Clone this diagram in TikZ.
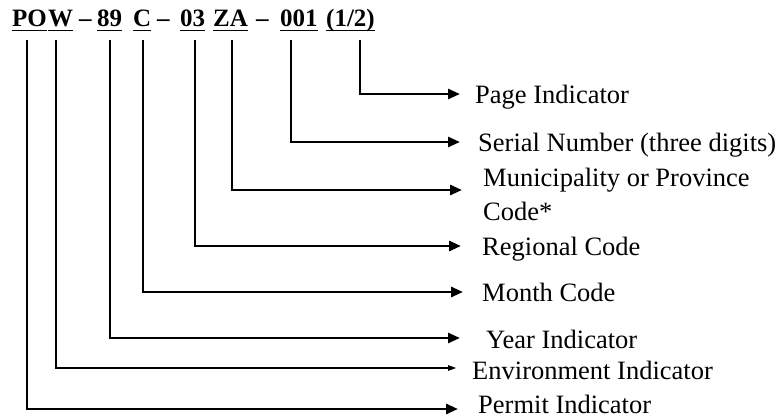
\documentclass[tikz,border=0pt]{standalone}
\usepackage{fontspec}
\setmainfont{Liberation Serif}
\usetikzlibrary{arrows.meta}
\begin{document}
\begin{tikzpicture}[x=1pt,y=-1pt,
  tok/.style={anchor=base west, inner sep=0pt, font=\fontsize{25}{28}\selectfont\bfseries},
  lab/.style={anchor=west, inner sep=0pt, text height=17.5pt, text depth=0pt, font=\fontsize{26.5}{32}\selectfont},
  labtwo/.style={anchor=base west, inner sep=0pt, align=left, font=\fontsize{26.5}{34}\selectfont},
  conn/.style={line width=2.8pt, -{Triangle[length=12pt,width=10pt]}},
  connslim/.style={line width=2.8pt, -{Triangle[length=9pt,width=5pt]}},
  uline/.style={line width=1.6pt}]
\useasboundingbox (0,0) rectangle (778,419);

% code tokens
\node[tok] (tPO)   at (12,27)  {PO};
\node[tok] (tW)    at (48,27)  {W};
\node[tok] (d1)    at (79,27)  {–};
\node[tok] (t89)   at (97,27)  {89};
\node[tok] (tC)    at (133,27) {C};
\node[tok] (d2)    at (157,27) {–};
\node[tok] (t03)   at (180,27) {03};
\node[tok] (tZA)   at (213,27) {ZA};
\node[tok] (d3)    at (256,27) {–};
\node[tok] (t001)  at (280,27) {001};
\node[tok] (tHalf) at (326,27) {(1/2)};

\foreach \t in {tPO,tW,t89,tC,t03,tZA,t001,tHalf}
  \draw[uline] ([yshift=-3.5pt]\t.base west) -- ([yshift=-3.5pt]\t.base east);

% labels
\node[lab] (lPage)   at (475,95)  {Page Indicator};
\node[lab] (lSerial) at (478,143) {Serial Number (three digits)};
\node[labtwo] (lMuni) at (483,221) {Municipality or Province\\Code*};
\node[lab] (lReg)    at (482,247) {Regional Code};
\node[lab] (lMonth)  at (482,293) {Month Code};
\node[lab] (lYear)   at (486,340) {Year Indicator};
\node[lab] (lEnv)    at (472,371) {Environment Indicator};
\node[lab] (lPerm)   at (478,405) {Permit Indicator};

% connectors
\draw[conn] ([shift={(34,13)}]tHalf.base west) |- ([shift={(-15,-1)}]lPage.west);
\draw[conn] ([shift={(11,13)}]t001.base west)  |- ([shift={(-18,-1)}]lSerial.west);
\draw[conn] ([shift={(19,13)}]tZA.base west)   |- ([shift={(-21,-31)}]lMuni.base west);
\draw[conn] ([shift={(15,13)}]t03.base west)   |- ([shift={(-21,-1)}]lReg.west);
\draw[conn] ([shift={(10,13)}]tC.base west)    |- ([shift={(-19,-1)}]lMonth.west);
\draw[conn] ([shift={(13,13)}]t89.base west)   |- ([shift={(-26,-2)}]lYear.west);
\draw[connslim] ([shift={(8,13)}]tW.base west) |- ([shift={(-15,-3)}]lEnv.west);
\draw[conn] ([shift={(15,13)}]tPO.base west)   |- ([shift={(-20,4)}]lPerm.west);
\end{tikzpicture}
\end{document}
